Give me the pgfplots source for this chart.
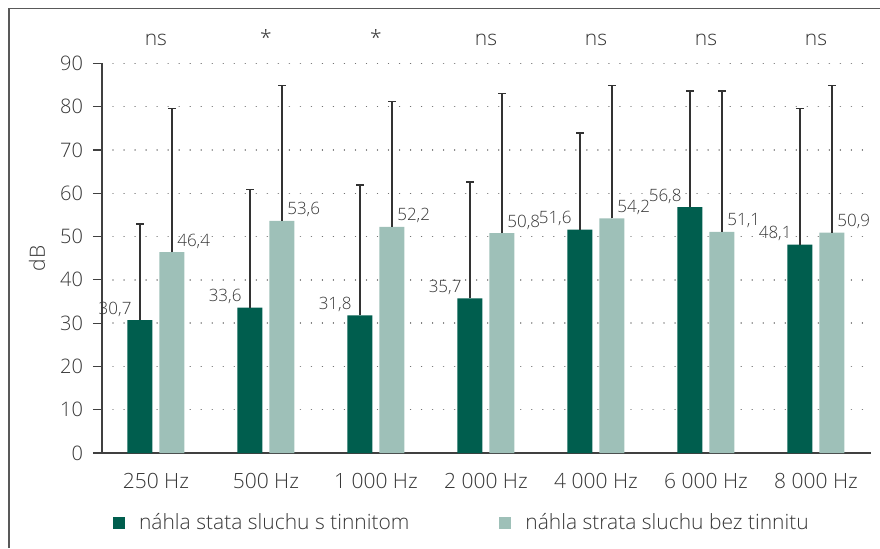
\documentclass[border=0pt]{standalone}
\usepackage{fontspec}
\setmainfont{Open Sans Light}
\usepackage{pgfplots}
\pgfplotsset{compat=1.18}
\definecolor{darkg}{RGB}{0,94,78}
\definecolor{lightg}{RGB}{158,192,184}
\definecolor{txt}{RGB}{55,55,55}

\begin{document}
\begin{tikzpicture}
\useasboundingbox (0,0) rectangle (440pt,-274pt);
\draw[black!65, line width=0.8pt] (4.5pt,-274pt) -- (4.5pt,-4.2pt) -- (440pt,-4.2pt);
\begin{axis}[
  at={(51pt,-226.5pt)}, anchor=south west,
  scale only axis, width=384.5pt, height=194.85pt,
  ybar, bar width=12.5pt,
  xmin=-0.49, xmax=6.5, ymin=0, ymax=90,
  axis x line=bottom, axis y line=left,
  axis line style={black!75, line width=0.6pt, -},
  xtick={0,...,6},
  xticklabels={250 Hz, 500 Hz, 1 000 Hz, 2 000 Hz, 4 000 Hz, 6 000 Hz, 8 000 Hz},
  x tick style={draw=none},
  xticklabel style={font=\fontsize{10.5}{12}\selectfont, text=txt, anchor=north, inner sep=0pt, yshift=-5.5pt},
  ytick={0,10,...,90},
  tick align=outside, major tick length=4.5pt,
  y tick style={black!75, line width=0.6pt},
  yticklabel style={font=\fontsize{10}{11}\selectfont, text=txt, anchor=east, inner sep=0pt, xshift=-4.8pt},
  /pgf/number format/assume math mode=true,
  ymajorgrids, grid style={black!55, line width=0.7pt, dash pattern=on 0.01pt off 5.5pt, line cap=round},
  ylabel={dB}, ylabel style={font=\fontsize{10.5}{12}\selectfont, text=txt, at={(axis description cs:-0.0845,0.5)}, anchor=center},
  clip=false,
  legend columns=2,
  legend style={draw=none, fill=none, font=\fontsize{10.5}{12}\selectfont, text=txt,
    at={(rel axis cs:0.0139,-0.18)}, anchor=west, inner sep=0pt,
    /tikz/every odd column/.append style={column sep=5pt},
    /tikz/every even column/.append style={column sep=43pt}},
  legend image code/.code={\fill[#1, draw=none] (0pt,-3pt) rectangle (6pt,3pt);},
  error bars/y dir=plus, error bars/y explicit,
  error bars/error mark=|,
  error bars/error bar style={black!80, line width=0.6pt},
  error bars/error mark options={black!80, line width=0.6pt, mark size=1.9pt},
  nodes near coords={\pgfmathprintnumber[fixed,fixed zerofill,precision=1,use comma,assume math mode=true]{\pgfplotspointmeta}},
]
\addplot[fill=darkg, draw=none, bar shift=-8pt,
  nodes near coords style={font=\fontsize{8.5}{10}\selectfont, text=txt, anchor=base east, inner sep=0pt, xshift=-4pt, yshift=3pt}]
  coordinates {
  (0,30.7) +- (0,22.2)
  (1,33.6) +- (0,27.2)
  (2,31.8) +- (0,30.1)
  (3,35.7) +- (0,26.9)
  (4,51.6) +- (0,22.3)
  (5,56.8) +- (0,26.8)
  (6,48.1) +- (0,31.5)
  };
\addplot[fill=lightg, draw=none, bar shift=8pt,
  nodes near coords style={font=\fontsize{8.5}{10}\selectfont, text=txt, anchor=base west, inner sep=0pt, xshift=2.5pt, yshift=3pt}]
  coordinates {
  (0,46.4) +- (0,33.2)
  (1,53.6) +- (0,31.3)
  (2,52.2) +- (0,28.9)
  (3,50.8) +- (0,32.3)
  (4,54.2) +- (0,30.7)
  (5,51.1) +- (0,32.5)
  (6,50.9) +- (0,34.0)
  };
\legend{náhla stata sluchu s tinnitom, náhla strata sluchu bez tinnitu}
\foreach \c/\s in {0/ns,1/*,2/*,3/ns,4/ns,5/ns,6/ns} {
  \edef\tmp{\noexpand\node[font=\noexpand\fontsize{10.5}{12}\noexpand\selectfont, text=txt, anchor=base] at (axis cs:\c,94.2) {\s};}
  \tmp
}
\end{axis}
\end{tikzpicture}
\end{document}
